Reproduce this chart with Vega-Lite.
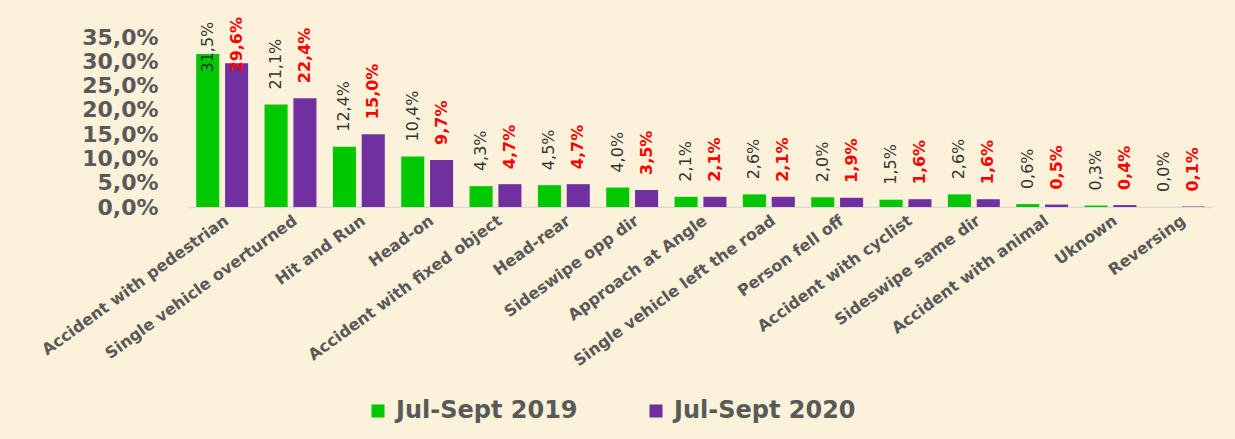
{
  "$schema": "https://vega.github.io/schema/vega-lite/v6.json",
  "width": 1025,
  "height": 170,
  "autosize": {"type": "none"},
  "padding": {"left": 188, "top": 37, "right": 22, "bottom": 232},
  "background": "#FCF2DA",
  "config": {
    "locale": {"number": {"decimal": ",", "thousands": ".", "grouping": [3], "currency": ["", " €"]}},
    "view": {"stroke": null},
    "font": "DejaVu Sans"
  },
  "data": {
    "values": [
      {"type": "Accident with pedestrian", "period": "Jul-Sept 2019", "value": 0.315},
      {"type": "Accident with pedestrian", "period": "Jul-Sept 2020", "value": 0.296},
      {"type": "Single vehicle overturned", "period": "Jul-Sept 2019", "value": 0.211},
      {"type": "Single vehicle overturned", "period": "Jul-Sept 2020", "value": 0.224},
      {"type": "Hit and Run", "period": "Jul-Sept 2019", "value": 0.124},
      {"type": "Hit and Run", "period": "Jul-Sept 2020", "value": 0.150},
      {"type": "Head-on", "period": "Jul-Sept 2019", "value": 0.104},
      {"type": "Head-on", "period": "Jul-Sept 2020", "value": 0.097},
      {"type": "Accident with fixed object", "period": "Jul-Sept 2019", "value": 0.043},
      {"type": "Accident with fixed object", "period": "Jul-Sept 2020", "value": 0.047},
      {"type": "Head-rear", "period": "Jul-Sept 2019", "value": 0.045},
      {"type": "Head-rear", "period": "Jul-Sept 2020", "value": 0.047},
      {"type": "Sideswipe opp dir", "period": "Jul-Sept 2019", "value": 0.040},
      {"type": "Sideswipe opp dir", "period": "Jul-Sept 2020", "value": 0.035},
      {"type": "Approach at Angle", "period": "Jul-Sept 2019", "value": 0.021},
      {"type": "Approach at Angle", "period": "Jul-Sept 2020", "value": 0.021},
      {"type": "Single vehicle left the road", "period": "Jul-Sept 2019", "value": 0.026},
      {"type": "Single vehicle left the road", "period": "Jul-Sept 2020", "value": 0.021},
      {"type": "Person fell off", "period": "Jul-Sept 2019", "value": 0.020},
      {"type": "Person fell off", "period": "Jul-Sept 2020", "value": 0.019},
      {"type": "Accident with cyclist", "period": "Jul-Sept 2019", "value": 0.015},
      {"type": "Accident with cyclist", "period": "Jul-Sept 2020", "value": 0.016},
      {"type": "Sideswipe same dir", "period": "Jul-Sept 2019", "value": 0.026},
      {"type": "Sideswipe same dir", "period": "Jul-Sept 2020", "value": 0.016},
      {"type": "Accident with animal", "period": "Jul-Sept 2019", "value": 0.006},
      {"type": "Accident with animal", "period": "Jul-Sept 2020", "value": 0.005},
      {"type": "Uknown", "period": "Jul-Sept 2019", "value": 0.003},
      {"type": "Uknown", "period": "Jul-Sept 2020", "value": 0.004},
      {"type": "Reversing", "period": "Jul-Sept 2019", "value": 0.000},
      {"type": "Reversing", "period": "Jul-Sept 2020", "value": 0.001}
    ]
  },
  "encoding": {
    "x": {
      "field": "type",
      "type": "nominal",
      "sort": null,
      "title": null,
      "scale": {"paddingInner": 0.24, "paddingOuter": 0.12},
      "axis": {
        "labelAngle": -36,
        "labelFontSize": 16,
        "labelFontWeight": "bold",
        "labelColor": "#595959",
        "labelPadding": 5,
        "labelLimit": 400,
        "ticks": false,
        "tickSize": 0,
        "domainColor": "#D9D9D9",
        "domainWidth": 1.5
      }
    },
    "xOffset": {"field": "period", "type": "nominal", "scale": {"paddingInner": 0.2}}
  },
  "layer": [
    {
      "mark": {"type": "bar"},
      "encoding": {
        "y": {
          "field": "value",
          "type": "quantitative",
          "title": null,
          "scale": {"domain": [0, 0.35]},
          "axis": {
            "values": [0, 0.05, 0.1, 0.15, 0.2, 0.25, 0.3, 0.35],
            "format": ".1%",
            "labelFontSize": 22,
            "labelFontWeight": "bold",
            "labelColor": "#595959",
            "labelPadding": 30,
            "ticks": false,
            "tickSize": 0,
            "domain": false,
            "grid": false
          }
        },
        "color": {
          "field": "period",
          "type": "nominal",
          "scale": {"domain": ["Jul-Sept 2019", "Jul-Sept 2020"], "range": ["#00C800", "#7030A0"]},
          "legend": {
            "orient": "none",
            "legendX": 178,
            "legendY": 362,
            "direction": "horizontal",
            "title": null,
            "symbolType": "square",
            "symbolSize": 170,
            "symbolStrokeWidth": 0,
            "labelFontSize": 24,
            "labelFontWeight": "bold",
            "labelColor": "#595959",
            "labelLimit": 0,
            "columnPadding": 66,
            "labelOffset": 6
          }
        }
      }
    },
    {
      "transform": [{"filter": "datum.period === 'Jul-Sept 2019'"}],
      "mark": {"type": "text", "angle": 270, "align": "left", "baseline": "middle", "dx": 15, "fontSize": 16, "color": "#333333"},
      "encoding": {
        "y": {"field": "value", "type": "quantitative", "scale": {"domain": [0, 0.246], "range": [170, 50.5], "clamp": true}, "axis": null},
        "text": {"field": "value", "type": "quantitative", "format": ".1%"}
      }
    },
    {
      "transform": [{"filter": "datum.period === 'Jul-Sept 2020'"}],
      "mark": {"type": "text", "angle": 270, "align": "left", "baseline": "middle", "dx": 15, "fontSize": 16, "fontWeight": "bold", "color": "#FF0000"},
      "encoding": {
        "y": {"field": "value", "type": "quantitative", "scale": {"domain": [0, 0.246], "range": [170, 50.5], "clamp": true}, "axis": null},
        "text": {"field": "value", "type": "quantitative", "format": ".1%"}
      }
    }
  ],
  "resolve": {"scale": {"y": "independent"}}
}
